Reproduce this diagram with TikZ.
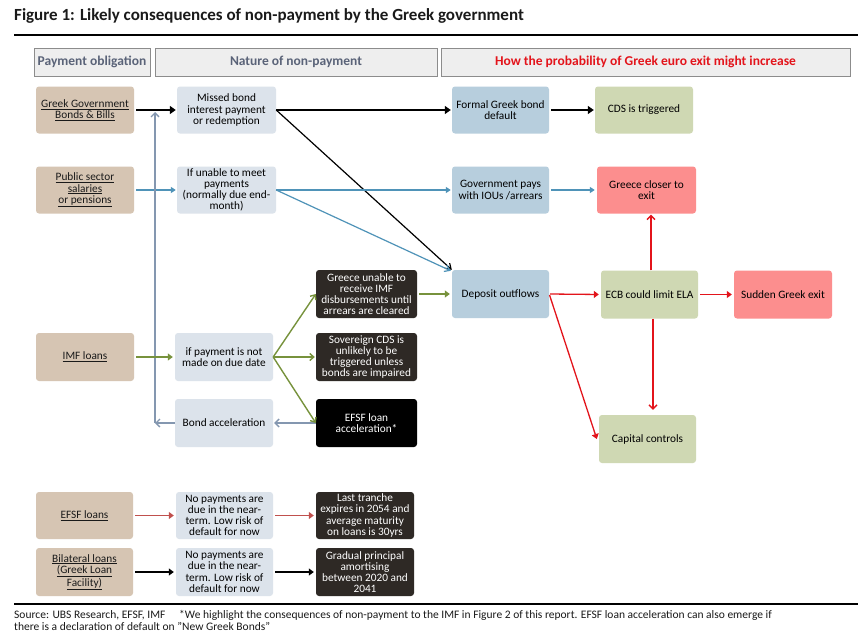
\documentclass[tikz,border=0pt]{standalone}
\usepackage{fontspec}
\setmainfont{Carlito}
\usetikzlibrary{arrows.meta}
\definecolor{tan}{HTML}{D6C5B3}
\definecolor{lgray}{HTML}{DCE3EB}
\definecolor{mblue}{HTML}{B7CEDD}
\definecolor{olivel}{HTML}{CFD8B3}
\definecolor{pinkb}{HTML}{FC8E8E}
\definecolor{darkb}{HTML}{2E2925}
\definecolor{hdrfill}{HTML}{EEEEEE}
\definecolor{hdrdraw}{HTML}{8C8C8C}
\definecolor{hdrtext}{HTML}{5A6378}
\definecolor{bluea}{HTML}{4F93B8}
\definecolor{graya}{HTML}{8497B0}
\definecolor{olivea}{HTML}{77923C}
\definecolor{reda}{HTML}{E3141B}
\definecolor{dreda}{HTML}{C0504D}
\definecolor{titletext}{HTML}{1A1A1A}
\newcommand\ulx[1]{\underline{#1}}
\tikzset{
  box/.style={rounded corners=3pt, minimum width=98pt, minimum height=47pt, align=center,
    inner sep=0.5pt, font=\fontsize{11.3}{11.2}\selectfont, text=black},
  tanbox/.style={box, fill=tan, text=titletext},
  lbox/.style={box, fill=lgray},
  mbox/.style={box, fill=mblue},
  obox/.style={box, fill=olivel},
  pbox/.style={box, fill=pinkb},
  dbox/.style={box, fill=darkb, text=white, minimum width=101pt},
  hdr/.style={draw=hdrdraw, fill=hdrfill, line width=0.8pt, minimum height=28pt,
    font=\fontsize{13.5}{14}\selectfont\bfseries, text=hdrtext},
  blk/.style={line width=2pt, -{Triangle[length=6pt,width=8pt]}},
  blkthin/.style={line width=1.2pt, -{Straight Barb[length=5pt,width=7pt]}},
  blu/.style={draw=bluea, line width=1.4pt, -{Triangle[length=5pt,width=6pt]}},
  bluthin/.style={draw=bluea, line width=1.2pt, -{Straight Barb[length=5pt,width=7pt]}},
  gra/.style={draw=graya, line width=1.3pt, -{Straight Barb[length=4pt,width=8pt]}},
  oli/.style={draw=olivea, line width=1.8pt, -{Triangle[length=5pt,width=7pt]}},
  olithin/.style={draw=olivea, line width=1.4pt, -{Straight Barb[length=4pt,width=7pt]}},
  red/.style={draw=reda, line width=1.3pt, -{Triangle[length=5pt,width=7pt]}},
  redv/.style={draw=reda, line width=1.3pt, -{Straight Barb[length=4pt,width=8pt]}},
  dred/.style={draw=dreda, line width=1.3pt, -{Triangle[length=5pt,width=7pt]}},
  blkb/.style={line width=1.3pt, -{Triangle[length=5pt,width=7pt]}},
}
\begin{document}
\begin{tikzpicture}[x=1pt,y=-1pt]
\useasboundingbox[fill=white] (0,0) rectangle (866,642);
% title
\node[anchor=west, font=\fontsize{17}{19}\selectfont\bfseries, text=titletext, inner sep=0pt] (title) at (14,16) {Figure 1: Likely consequences of non-payment by the Greek government};
\draw[line width=2pt] (14,35) coordinate (r1a) -- (858,35) coordinate (r1b);
% headers
\node[hdr, minimum width=116pt] (h1) at (92,62) {Payment obligation};
\node[hdr, minimum width=282pt] (h2) at (296,62) {Nature of non-payment};
\node[hdr, minimum width=409pt, text=reda] (h3) at (645.5,62) {How the probability of Greek euro exit might increase};
% row 1
\node[tanbox] (ggb) at (85,110) {\ulx{Greek Government}\\\ulx{Bonds \& Bills}};
\node[lbox, minimum width=99pt] (missed) at (226.5,110) {Missed bond\\interest payment\\or redemption};
\node[mbox, minimum width=97pt] (formal) at (500.5,110) {Formal Greek bond\\default};
\node[obox] (cds) at (644,110) {CDS is triggered};
% row 2
\node[tanbox] (pub) at (85,190) {\ulx{Public sector}\\\ulx{salaries}\\\ulx{or pensions}};
\node[lbox, minimum width=99pt] (unable) at (226.5,190) {If unable to meet\\payments\\(normally due end-\\month)};
\node[mbox, minimum width=97pt] (iou) at (500.5,190) {Government pays\\with IOUs /arrears};
\node[pbox, minimum width=99pt] (closer) at (646.5,190) {Greece closer to\\exit};
% row 3
\node[dbox, minimum height=48pt] (imfdisb) at (366.5,294) {Greece unable to\\receive IMF\\disbursements until\\arrears are cleared};
\node[mbox, minimum width=97pt, minimum height=48pt] (deposit) at (500.5,294) {Deposit outflows};
\node[obox, minimum width=97pt, minimum height=48pt] (ecb) at (649.5,294.5) {ECB could limit ELA};
\node[pbox, minimum height=48pt] (sudden) at (783,294.5) {Sudden Greek exit};
% IMF row
\node[tanbox, minimum height=48pt] (imf) at (85,357) {\ulx{IMF loans}};
\node[lbox, minimum height=48pt] (ifpay) at (224,357) {if payment is not\\made on due date};
\node[dbox, minimum height=48pt] (sovcds) at (366.5,357) {Sovereign CDS is\\unlikely to be\\triggered unless\\bonds are impaired};
% row 4
\node[lbox, minimum height=48pt] (bondacc) at (224,423) {Bond acceleration};
\node[dbox, fill=black, minimum height=48pt] (efsfacc) at (366.5,423) {EFSF loan\\acceleration*};
\node[obox, minimum width=97pt, minimum height=48pt] (capctl) at (647.5,439) {Capital controls};
% EFSF row
\node[tanbox, minimum width=97pt] (efsf) at (84.5,515.5) {\ulx{EFSF loans}};
\node[lbox, minimum width=97pt] (nopay1) at (224.5,515.5) {No payments are\\due in the near-\\term. Low risk of\\default for now};
\node[dbox, minimum width=98pt] (tranche) at (365,515.5) {Last tranche\\expires in 2054 and\\average maturity\\on loans is 30yrs};
% bilateral row
\node[tanbox, minimum width=97pt, minimum height=48pt] (bilat) at (84.5,572) {\ulx{Bilateral loans}\\\ulx{(Greek Loan}\\\ulx{Facility)}};
\node[lbox, minimum width=97pt, minimum height=48pt] (nopay2) at (224.5,572) {No payments are\\due in the near-\\term. Low risk of\\default for now};
\node[dbox, minimum width=98pt, minimum height=48pt] (gradual) at (365,572) {Gradual principal\\amortising\\between 2020 and\\2041};
% connectors row 1
\draw[blk, shorten <=2pt, shorten >=1pt] (ggb) -- (missed);
\draw[blk, shorten >=1pt] (missed.east) -- (formal.west);
\draw[blkthin] (missed.east) -- (deposit.north west);
\draw[blk, shorten <=2pt, shorten >=1pt] (formal) -- (cds);
% row 2
\draw[blu, shorten <=2pt, shorten >=1pt] (pub) -- (unable);
\draw[blu, shorten >=1pt] (unable.east) -- (iou.west);
\draw[bluthin] (unable.east) -- ([xshift=-1pt,yshift=-1pt]deposit.north west);
\draw[blu, shorten <=2pt, shorten >=2pt] (iou) -- (closer);
% bond acceleration feedback
\coordinate (fbc) at (155,423);
\coordinate (fbt) at (155,112);
\draw[gra, shorten >=1pt] (efsfacc.west) -- (bondacc.east);
\draw[gra] (bondacc.west) -- (fbc);
\draw[gra] (fbc) -- (fbt);
% IMF
\draw[oli, shorten <=2pt, shorten >=2pt] (imf) -- (ifpay);
\draw[olithin] (ifpay.east) -- (imfdisb.west);
\draw[olithin, shorten >=1pt] (ifpay.east) -- (sovcds.west);
\draw[olithin] (ifpay.east) -- (efsfacc.west);
\draw[oli, shorten <=2pt, shorten >=2pt] (imfdisb) -- (deposit);
% red
\draw[red, shorten <=1pt, shorten >=2pt] (deposit.east) -- (ecb.west);
\draw[red, shorten <=1pt] (deposit.east) -- ([xshift=-2pt]capctl.west);
\draw[red, shorten <=2pt, shorten >=2pt] (ecb) -- (sudden);
\draw[redv, shorten >=1pt] ([xshift=1.5pt]ecb.north) -- ([xshift=1.5pt]ecb.north |- closer.south);
\draw[redv, shorten >=5pt] ([xshift=3.5pt]ecb.south) -- ([xshift=3.5pt]ecb.south |- capctl.north);
% bottom rows
\draw[dred, shorten <=2pt, shorten >=2pt] (efsf) -- (nopay1);
\draw[dred, shorten <=2pt, shorten >=2pt] (nopay1) -- (tranche);
\draw[blkb, shorten <=2pt, shorten >=2pt] (bilat) -- (nopay2);
\draw[blkb, shorten <=2pt, shorten >=2pt] (nopay2) -- (gradual);
% footer
\draw[line width=2pt] (14,604) coordinate (r2a) -- (858,604) coordinate (r2b);
\node[anchor=north west, align=left, inner sep=0pt, font=\fontsize{11.5}{12.5}\selectfont, text=titletext] (foot) at (14,610)
{Source: UBS Research, EFSF, IMF\hspace{1.2em}*We highlight the consequences of non-payment to the IMF in Figure 2 of this report. EFSF loan acceleration can also emerge if\\there is a declaration of default on "New Greek Bonds"};
\end{tikzpicture}
\end{document}
